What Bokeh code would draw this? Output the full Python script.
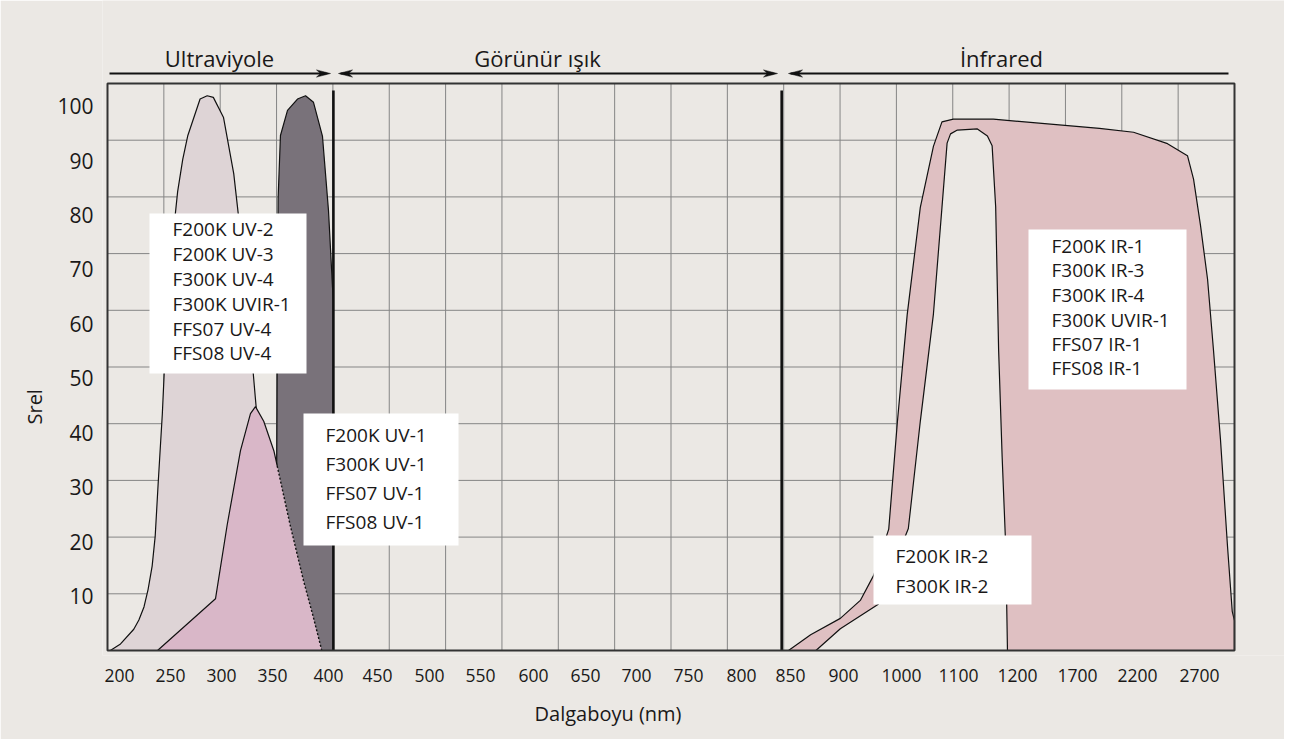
import math
import numpy as np
from bokeh.plotting import figure
from bokeh.models import Range1d, FixedTicker, Title
from bokeh.core.properties import value
from bokeh.embed import file_html
from bokeh.resources import INLINE

# ---------------- data ----------------
tick_nm = [200, 250, 300, 350, 400, 450, 500, 550, 600, 650, 700, 750, 800, 850,
           900, 1000, 1100, 1200, 1700, 2200, 2700]
y_ticks = [10, 20, 30, 40, 50, 60, 70, 80, 90, 100]

# light UV curve (F200K UV-2 ... group)
uv_wide_nm = [191, 201, 214, 219, 224, 228, 232, 235, 238, 242, 247, 252, 257, 262, 267, 279, 286, 292,
              302, 312, 322, 333, 341, 348, 355, 359]
uv_wide_val = [0, 1.2, 3.9, 5.6, 8.0, 11.2, 15.5, 21.0, 31.0, 43.5, 63.9, 75.3, 84.3, 90.2, 94.6, 101.3,
               101.9, 101.6, 97.9, 87.6, 70.9, 46.8, 29.9, 16.2, 6.8, 0]

# dark UV curve (long-wave UV)
uv_long_nm = [352.7, 353.6, 354.5, 355.0, 357.1, 363.4, 372.3, 379.5, 386.6, 394.6, 400.0, 404.1, 405, 405]
uv_long_val = [0, 27.6, 64.3, 83.0, 94.6, 99.2, 101.3, 101.9, 100.7, 94.5, 80.8, 66.7, 64.3, 0]

# purple UV-1 curve
uv1_nm = [237.3, 294.1, 305.6, 318.6, 328.4, 333.3, 341.4, 351.2, 354.2, 365.7, 377.6, 386.5, 394.0]
uv1_val = [0, 9.5, 23.1, 36.7, 43.5, 44.8, 42.1, 36.7, 33.9, 23.1, 12.9, 6.1, 0]

# IR-1 group (wide band)
ir_wide_nm = [848, 869, 897, 929, 952, 978, 993, 1010, 1033, 1056, 1071, 1091, 1159, 1883,
              2167, 2442, 2603, 2652, 2708, 2765, 2813, 2869, 2926, 2964, 2982, 2982]
ir_wide_val = [0, 2.9, 5.9, 9.2, 13.8, 22.3, 42.1, 61.7, 81.4, 92.6, 97.1, 97.6, 97.6, 95.9,
               95.2, 93.1, 90.9, 86.6, 78.1, 68.2, 55.1, 38.8, 19.1, 7.2, 5.5, 0]

# IR-2 group (narrow band, drawn as empty area)
ir_narrow_nm = [874, 897, 960, 1012, 1033, 1056, 1071, 1080, 1086, 1098, 1132, 1149, 1157, 1163,
                1168, 1174, 1180, 1183]
ir_narrow_val = [0, 4.0, 8.5, 22.4, 42.1, 61.8, 81.4, 93.2, 94.9, 95.6, 95.8, 94.5, 92.7, 81.5,
                 55.2, 35.5, 19.2, 0]

region_names = ["Ultraviyole", "Görünür ışık", "İnfrared"]
region_edges_nm = [405, 841]

box_uv_wide = ["F200K UV-2", "F200K UV-3", "F300K UV-4", "F300K UVIR-1", "FFS07 UV-4", "FFS08 UV-4"]
box_uv1 = ["F200K UV-1", "F300K UV-1", "FFS07 UV-1", "FFS08 UV-1"]
box_ir1 = ["F200K IR-1", "F300K IR-3", "F300K IR-4", "F300K UVIR-1", "FFS07 IR-1", "FFS08 IR-1"]
box_ir2 = ["F200K IR-2", "F300K IR-2"]

x_title = "Dalgaboyu (nm)"
y_title = "Srel"

# ---------------- layout ----------------
tick_px = [119, 170, 221, 272, 328, 377, 429, 480, 533, 585, 636, 688, 741, 790,
           843, 901, 958, 1017, 1077, 1137, 1199]
FRAME_L, FRAME_R, FRAME_T, FRAME_B = 107, 1234, 83, 650
PXY = 5.444  # pixels per Srel unit

BG = "#ebe8e4"
TXT = "#1a1818"
FONT = value("Open Sans")

TP = [t - FRAME_L for t in tick_px]


def to_pos(nm):
    nm = np.asarray(nm, dtype=float)
    out = np.interp(nm, tick_nm, TP)
    s0 = (TP[1] - TP[0]) / (tick_nm[1] - tick_nm[0])
    s1 = (TP[-1] - TP[-2]) / (tick_nm[-1] - tick_nm[-2])
    lo = nm < tick_nm[0]
    hi = nm > tick_nm[-1]
    out[lo] = TP[0] + (nm[lo] - tick_nm[0]) * s0
    out[hi] = TP[-1] + (nm[hi] - tick_nm[-1]) * s1
    return out


def X(px):
    return px - FRAME_L


def Y(py):
    return (FRAME_B - py) / PXY


p = figure(width=1284, height=739,
           x_range=Range1d(-5, 1177), y_range=Range1d(-5 / PXY, 650 / PXY),
           min_border_left=102, min_border_right=0, min_border_top=0, min_border_bottom=84,
           output_backend="svg", toolbar_location=None,
           background_fill_color=BG, border_fill_color=BG, outline_line_color=None)
p.xgrid.visible = False
p.ygrid.visible = False

# axes
tick_pos = [int(round(v)) for v in to_pos(tick_nm)]
p.xaxis.ticker = FixedTicker(ticks=tick_pos)
p.xaxis.major_label_overrides = {t: str(n) for t, n in zip(tick_pos, tick_nm)}
p.yaxis.ticker = FixedTicker(ticks=y_ticks)
for ax in (p.xaxis, p.yaxis):
    ax.axis_line_color = None
    ax.major_tick_line_color = None
    ax.minor_tick_line_color = None
    ax.major_label_text_font = "Open Sans"
    ax.major_label_text_color = TXT
p.xaxis.major_label_text_font_size = "17.5px"
p.xaxis.major_label_standoff = 7
p.yaxis.major_label_text_font_size = "21px"
p.yaxis.major_label_standoff = 3

# axis titles
p.add_layout(Title(text=x_title, align="left", offset=432, text_font="Open Sans",
                   text_font_size="20px", text_font_style="normal", text_color=TXT, standoff=26), "below")
p.add_layout(Title(text=y_title, align="left", offset=231, text_font="Open Sans",
                   text_font_size="20px", text_font_style="normal", text_color=TXT, standoff=13), "left")

# grid (uniform divisions of the chart box)
fw, fh = X(FRAME_R), Y(FRAME_T)
gx = [fw * k / 20 for k in range(1, 20)]
gy = [fh * k / 10 for k in range(1, 10)]
p.segment(x0=gx, y0=[0] * len(gx), x1=gx, y1=[fh] * len(gx), line_color="#858585", line_width=1)
p.segment(x0=[0] * len(gy), y0=gy, x1=[fw] * len(gy), y1=gy, line_color="#858585", line_width=1)

# curves
p.patch(to_pos(uv_wide_nm), uv_wide_val, fill_color="#ded4d6", line_color="#111111", line_width=1.2)
p.patch(to_pos(uv_long_nm), uv_long_val, fill_color="#79727a", line_color="#111111", line_width=1.2)
p.patch(to_pos(uv1_nm), uv1_val, fill_color="#d9b7c8", line_color=None)
k = uv1_nm.index(354.2)
p.line(to_pos(uv1_nm[:k + 1]), uv1_val[:k + 1], line_color="#111111", line_width=1.2)
p.line(to_pos(uv1_nm[k:]), uv1_val[k:], line_color="#111111", line_width=1.4, line_dash="2 2")

p.patch(to_pos(ir_wide_nm), ir_wide_val, fill_color="#dfc0c2", line_color="#111111", line_width=1.2)
p.patch(to_pos(ir_narrow_nm), ir_narrow_val, fill_color=BG, line_color="#111111", line_width=1.2)

# region separators
ep = to_pos(region_edges_nm)
p.segment(x0=ep, y0=[0, 0], x1=ep, y1=[Y(90)] * 2, line_color="#111111", line_width=2.6)

# chart box
p.quad(left=[0], right=[fw], bottom=[0], top=[fh], fill_color=None, line_color="#333333", line_width=2)

# label boxes
boxes = [
    (box_uv_wide, (149, 306, 213, 373), 172, [228, 253, 278, 303, 328, 352]),
    (box_uv1, (303, 458, 413, 545), 325, [434, 463, 492, 521]),
    (box_ir1, (1028, 1186, 229, 389), 1051, [245, 269.5, 294, 319, 343, 367]),
    (box_ir2, (873, 1031, 535, 604), 895, [555, 585.5]),
]
for texts, (l, r, t, b), tx, ys in boxes:
    p.quad(left=[X(l)], right=[X(r)], top=[Y(t)], bottom=[Y(b)], fill_color="white", line_color=None)
    p.text(x=[X(tx)] * len(texts), y=[Y(v) for v in ys], text=texts, text_font=FONT,
           text_font_size=value("19px"), text_color=TXT, text_baseline="middle", text_align="left")

# region headers and arrows
hx = [219, 537, 1001]
p.text(x=[X(v) for v in hx], y=[Y(57)] * 3, text=region_names, text_font=FONT,
       text_font_size=value("22px"), text_color=TXT, text_baseline="middle", text_align="center")
ay = Y(73)
spans = [(107, 330), (338, 777), (788, 1232)]
p.segment(x0=[X(a) + 2 for a, b in spans], y0=[ay] * 3, x1=[X(b) - 4 for a, b in spans], y1=[ay] * 3,
          line_color="#111111", line_width=2)
h = 3.6 / PXY
heads_x, heads_y = [], []
for tip, d in [(330, 1), (338, -1), (777, 1), (788, -1)]:
    tx = X(tip)
    heads_x.append([tx, tx - 14 * d, tx - 10 * d, tx - 14 * d])
    heads_y.append([ay, ay + h, ay, ay - h])
p.patches(heads_x, heads_y, fill_color="#111111", line_color="#111111", line_width=0.5)

open("out.html", "w").write(file_html(p, INLINE))
